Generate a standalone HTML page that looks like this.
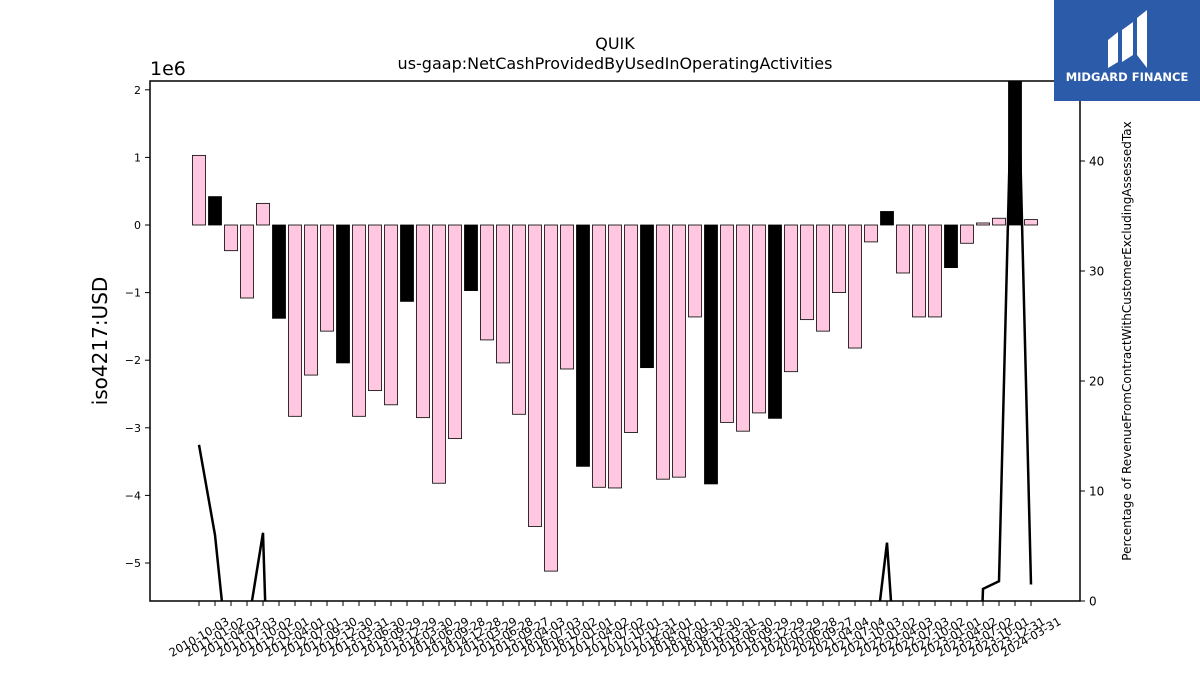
<!DOCTYPE html>
<html><head><meta charset="utf-8"><style>
html,body{margin:0;background:#fff;width:1200px;height:675px;overflow:hidden;}
svg{display:block;font-family:"DejaVu Sans","Liberation Sans",sans-serif;}
</style></head><body>
<svg id="chart" width="1200" height="675" viewBox="0 0 1200 675">
<text x="615" y="49" font-size="16" text-anchor="middle">QUIK</text>
<text x="615" y="69" font-size="16" text-anchor="middle">us-gaap:NetCashProvidedByUsedInOperatingActivities</text>
<text x="150" y="75" font-size="19">1e6</text>
<text transform="translate(107,341) rotate(-90)" font-size="20" text-anchor="middle">iso4217:USD</text>
<text transform="translate(1131,341) rotate(-90)" font-size="12" text-anchor="middle">Percentage of RevenueFromContractWithCustomerExcludingAssessedTax</text>
<defs><clipPath id="pc"><rect x="150" y="81" width="930" height="520"/></clipPath></defs>
<g id="bars" clip-path="url(#pc)"></g>
<g id="line" clip-path="url(#pc)"></g>
<g id="axes"></g>
<rect x="150" y="81" width="930" height="520" fill="none" stroke="#000" stroke-width="1.5"/>
<g>
<rect x="1054" y="0" width="146" height="101" fill="#2c5ba9"/>
<path d="M1108 68 L1108 40 L1118 32 L1118 62 Z M1122 62 L1122 30 L1133 22 L1133 55 Z M1137 55 L1137 18 L1147 10 L1147 68 Z" fill="#fff"/>
<text x="1127" y="81" font-size="11.5" font-weight="bold" fill="#fff" text-anchor="middle">MIDGARD FINANCE</text>
</g>
</svg>
<script>
const dates=["2010-10-03","2011-01-02","2011-04-03","2011-07-03","2011-10-02","2012-01-01","2012-04-01","2012-07-01","2012-09-30","2012-12-30","2013-03-31","2013-06-30","2013-09-29","2013-12-29","2014-03-30","2014-06-29","2014-09-28","2014-12-28","2015-03-29","2015-06-28","2015-09-27","2016-04-03","2016-07-03","2016-10-02","2017-01-01","2017-04-02","2017-07-02","2017-10-01","2017-12-31","2018-04-01","2018-07-01","2018-09-30","2018-12-30","2019-03-31","2019-06-30","2019-09-29","2019-12-29","2020-03-29","2020-06-28","2020-09-27","2021-04-04","2021-07-04","2021-10-03","2022-01-02","2022-04-03","2022-07-03","2022-10-02","2023-01-01","2023-04-02","2023-07-02","2023-10-01","2023-12-31","2024-03-31"];
const cashFlow=[1.03,0.42,-0.38,-1.08,0.32,-1.38,-2.83,-2.22,-1.57,-2.04,-2.83,-2.45,-2.66,-1.13,-2.85,-3.82,-3.16,-0.97,-1.70,-2.04,-2.80,-4.46,-5.12,-2.13,-3.57,-3.88,-3.89,-3.07,-2.11,-3.76,-3.73,-1.36,-3.83,-2.92,-3.05,-2.78,-2.86,-2.17,-1.40,-1.57,-1.00,-1.82,-0.25,0.20,-0.71,-1.36,-1.36,-0.63,-0.27,0.03,0.10,2.3,0.08];
const isAnnual=[0,1,0,0,0,1,0,0,0,1,0,0,0,1,0,0,0,1,0,0,0,0,0,0,1,0,0,0,1,0,0,0,1,0,0,0,1,0,0,0,0,0,0,1,0,0,0,1,0,0,0,1,0];
const pctRevenue=[14.2,6.0,-8,-2.8,6.2,-40,-40,-40,-40,-40,-40,-40,-40,-40,-40,-40,-40,-40,-40,-40,-40,-40,-40,-40,-40,-40,-40,-40,-40,-40,-40,-40,-40,-40,-40,-40,-40,-40,-40,-40,-40,-40,-6.8,5.3,-16,-40,-40,-40,-40,1.1,1.8,60,1.5];
const yTicks=[-5,-4,-3,-2,-1,0,1,2];
const y2Ticks=[0,10,20,30,40];
const NS="http://www.w3.org/2000/svg";
const x=i=>199+i*16;
const y=v=>225-v*67.6;
const y2=v=>601-v*11;
function mk(tag,attrs,parent){const e=document.createElementNS(NS,tag);for(const k in attrs)e.setAttribute(k,attrs[k]);parent.appendChild(e);return e;}
const bars=document.getElementById('bars'),line=document.getElementById('line'),axes=document.getElementById('axes');
cashFlow.forEach((v,i)=>{
 const r=mk('rect',{x:x(i)-6.5,y:Math.min(y(v),y(0)),width:13,height:Math.abs(y(v)-y(0)),fill:isAnnual[i]?'#000':'#ffc8e0',stroke:'#000','stroke-width':0.8},bars);
 
 
});
const pl=mk('polyline',{points:pctRevenue.map((v,i)=>x(i)+','+y2(v)).join(' '),fill:'none',stroke:'#000','stroke-width':2.5},line);


yTicks.forEach(t=>{
 mk('line',{x1:145,x2:150,y1:y(t),y2:y(t),stroke:'#000'},axes);
 const tx=mk('text',{x:141,y:y(t)+4,'font-size':11,'text-anchor':'end'},axes);
 tx.textContent=t<0?'\u2212'+(-t):String(t);
 
 
});
y2Ticks.forEach(t=>{
 mk('line',{x1:1080,x2:1085,y1:y2(t),y2:y2(t),stroke:'#000'},axes);
 const tx=mk('text',{x:1089,y:y2(t)+4.5,'font-size':12},axes);
 tx.textContent=String(t);
 
 
});
dates.forEach((d,i)=>{
 mk('line',{x1:x(i),x2:x(i),y1:601,y2:606,stroke:'#000'},axes);
 const tx=mk('text',{transform:`translate(${x(i)},637) rotate(-30)`,'font-size':11.5,'text-anchor':'middle','dominant-baseline':'central'},axes);
 tx.textContent=d;
 
 
});
</script>
</body></html>
